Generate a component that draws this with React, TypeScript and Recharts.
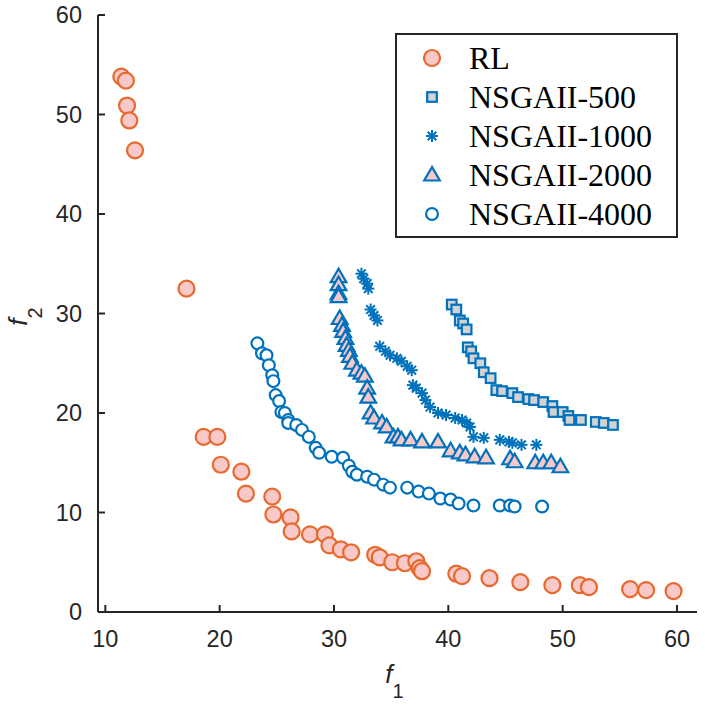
import { ScatterChart, Scatter, XAxis, YAxis, Legend } from "recharts";

// values
const rlPoints = [
  [11.4, 53.8], [11.8, 53.4], [11.9, 50.9], [12.1, 49.4], [12.6, 46.4],
  [17.1, 32.5], [18.6, 17.6], [19.8, 17.6], [20.1, 14.8], [21.9, 14.1],
  [22.3, 11.9], [24.6, 11.6], [24.7, 9.8], [26.2, 9.5], [26.3, 8.1],
  [27.9, 7.8], [29.2, 7.8], [29.6, 6.7], [30.6, 6.3], [31.5, 6.0],
  [33.6, 5.75], [34.0, 5.5], [35.1, 5.0], [36.2, 4.9], [37.2, 5.1],
  [37.5, 4.4], [37.7, 4.1], [40.7, 3.85], [41.2, 3.6], [43.6, 3.4],
  [46.3, 3.0], [49.1, 2.7], [51.5, 2.7], [52.3, 2.5], [55.9, 2.3],
  [57.3, 2.2], [59.7, 2.1],
];

const nsga500 = [
  [40.3, 30.9], [40.7, 30.4], [41.0, 29.3], [41.3, 29.0], [41.6, 28.4],
  [41.7, 26.6], [42.0, 26.2], [42.2, 25.5], [42.8, 25.0], [43.1, 24.1],
  [43.7, 23.5], [44.2, 22.3], [44.7, 22.2], [45.6, 22.0], [46.1, 21.6],
  [47.0, 21.4], [47.5, 21.3], [48.3, 21.1], [49.1, 20.7], [49.2, 20.1],
  [50.0, 20.1], [50.5, 19.7], [50.6, 19.3], [51.6, 19.3], [52.9, 19.1],
  [53.6, 19.0], [54.4, 18.8],
];

const nsga1000 = [
  [32.4, 34.0], [32.6, 33.5], [32.9, 33.0], [33.0, 32.5], [33.2, 30.4],
  [33.5, 29.8], [33.8, 29.3], [34.0, 26.7], [34.5, 26.2], [34.9, 25.8],
  [35.5, 25.5], [35.9, 25.2], [36.4, 24.7], [36.8, 24.3], [36.9, 22.8],
  [37.2, 22.5], [37.7, 22.0], [38.0, 21.3], [38.4, 20.6], [39.1, 20.0],
  [39.8, 19.8], [40.6, 19.5], [41.2, 19.3], [41.6, 19.0], [41.9, 18.6],
  [42.2, 17.6], [43.1, 17.5], [44.5, 17.3], [45.3, 17.1], [45.6, 17.0],
  [46.4, 16.8], [47.7, 16.8],
];

const nsga2000 = [
  [30.4, 33.7], [30.4, 32.9], [30.4, 32.0], [30.4, 31.7], [30.5, 29.5],
  [30.7, 28.8], [30.8, 28.2], [31.0, 27.5], [31.1, 26.8], [31.3, 26.3],
  [31.4, 25.7], [31.6, 25.0], [32.0, 24.3], [32.4, 24.0], [32.7, 23.7],
  [32.9, 22.5], [33.0, 21.6], [33.2, 20.0], [33.5, 19.5], [34.2, 19.0],
  [34.6, 18.6], [35.2, 17.6], [35.6, 17.6], [35.9, 17.3], [36.7, 17.3],
  [37.7, 17.1], [39.1, 17.1], [40.2, 16.2], [41.0, 16.0], [41.5, 15.8],
  [42.3, 15.6], [43.3, 15.5], [45.4, 15.4], [45.8, 15.1], [47.6, 15.0],
  [48.3, 15.0], [49.0, 15.0], [49.8, 14.6],
];

const nsga4000 = [
  [23.3, 27.0], [23.7, 26.0], [24.1, 25.8], [24.3, 24.8], [24.6, 23.8],
  [24.7, 23.2], [24.9, 21.8], [25.2, 21.2], [25.4, 20.1], [25.7, 20.0],
  [26.0, 19.3], [26.0, 19.0], [26.7, 18.8], [27.2, 18.3], [27.8, 17.6],
  [28.4, 16.5], [28.7, 16.0], [29.8, 15.6], [30.8, 15.5], [31.3, 14.7],
  [31.6, 14.1], [32.0, 13.8], [32.9, 13.6], [33.5, 13.3], [34.3, 12.8],
  [34.9, 12.5], [36.4, 12.5], [37.4, 12.1], [38.3, 11.9], [39.3, 11.4],
  [40.2, 11.3], [40.9, 10.9], [42.2, 10.7], [44.5, 10.7], [45.4, 10.7],
  [45.8, 10.6], [48.2, 10.6],
];

const seriesNames = ["RL", "NSGAII-500", "NSGAII-1000", "NSGAII-2000", "NSGAII-4000"];
const xTicks = [10, 20, 30, 40, 50, 60];
const yTicks = [0, 10, 20, 30, 40, 50, 60];

const toData = (pts: number[][]) => pts.map(([x, y]) => ({ x, y }));

const ORANGE = "#E8692D";
const BLUE = "#0072BD";
const PINK = "#F9C8C8";
const GRAY = "#D3D3D3";
const AXIS = "#262626";

const RlMark = ({ cx, cy }: any) => (
  <circle cx={cx} cy={cy} r={8} fill={PINK} stroke={ORANGE} strokeWidth={2.2} />
);
const SquareMark = ({ cx, cy }: any) => (
  <rect x={cx - 4.8} y={cy - 4.8} width={9.6} height={9.6} fill={GRAY} stroke={BLUE} strokeWidth={2.2} />
);
const StarMark = ({ cx, cy }: any) => {
  const r = 6;
  const d = r * 0.72;
  return (
    <g stroke={BLUE} strokeWidth={2}>
      <line x1={cx - r} y1={cy} x2={cx + r} y2={cy} />
      <line x1={cx} y1={cy - r} x2={cx} y2={cy + r} />
      <line x1={cx - d} y1={cy - d} x2={cx + d} y2={cy + d} />
      <line x1={cx - d} y1={cy + d} x2={cx + d} y2={cy - d} />
    </g>
  );
};
const TriMark = ({ cx, cy }: any) => (
  <polygon
    points={`${cx},${cy - 8} ${cx - 7.8},${cy + 5.5} ${cx + 7.8},${cy + 5.5}`}
    fill={PINK}
    stroke={BLUE}
    strokeWidth={2.2}
  />
);
const RingMark = ({ cx, cy }: any) => (
  <circle cx={cx} cy={cy} r={5.9} fill="#fff" stroke={BLUE} strokeWidth={2.2} />
);

const marks = [RlMark, SquareMark, StarMark, TriMark, RingMark];

const LegendBox = () => (
  <div
    style={{
      boxSizing: "border-box",
      width: 283,
      height: 205,
      border: `2px solid ${AXIS}`,
      background: "#fff",
      paddingTop: 4,
      fontFamily: "'Liberation Serif', 'Times New Roman', serif",
      fontSize: 32,
      color: "#000",
    }}
  >
    {seriesNames.map((name, i) => {
      const Mark = marks[i];
      return (
        <div key={name} style={{ height: 38.8, display: "flex", alignItems: "center" }}>
          <svg width={72} height={38} style={{ flex: "none" }}>
            <Mark cx={35} cy={19} />
          </svg>
          <span style={{ lineHeight: "38px" }}>{name}</span>
        </div>
      );
    })}
  </div>
);

const tickFont = { fill: AXIS, fontSize: 23.5, fontFamily: "'Liberation Sans', Arial, sans-serif" };
const axisLine = { stroke: AXIS, strokeWidth: 2 };
const XDOM: [number, number] = [9.36, 61.75];
const YDOM: [number, number] = [0, 60];

export default function App() {
  return (
    <div style={{ position: "absolute", left: 0, top: 0, background: "#fff" }}>
      <ScatterChart width={705} height={705} margin={{ top: 15, right: 8, bottom: 0, left: 0 }}>
        <XAxis
          dataKey="x"
          type="number"
          domain={XDOM}
          allowDataOverflow
          ticks={xTicks}
          interval={0}
          height={93}
          tickSize={-7}
          tickMargin={25}
          tick={tickFont}
          axisLine={axisLine}
          tickLine={axisLine}
          label={{
            content: (p: any) => {
              const cx = p.viewBox.x + p.viewBox.width / 2 - 3;
              return (
                <text x={cx} y={683} textAnchor="middle" fill={AXIS} fontFamily="'Liberation Sans', Arial, sans-serif">
                  <tspan fontStyle="italic" fontSize={26}>f</tspan>
                  <tspan fontSize={20} dy={15}>1</tspan>
                </text>
              );
            },
          }}
        />
        <XAxis
          xAxisId="top"
          orientation="top"
          type="number"
          domain={XDOM}
          allowDataOverflow
          ticks={xTicks}
          interval={0}
          height={0}
          tickSize={-7}
          tick={false}
          axisLine={axisLine}
          tickLine={axisLine}
        />
        <YAxis
          dataKey="y"
          type="number"
          domain={YDOM}
          allowDataOverflow
          ticks={yTicks}
          interval={0}
          width={98}
          tickSize={-7}
          tickMargin={23}
          tick={tickFont}
          axisLine={axisLine}
          tickLine={axisLine}
          label={{
            content: (p: any) => {
              const cy = p.viewBox.y + p.viewBox.height / 2 + 3;
              return (
                <text
                  transform={`translate(27, ${cy}) rotate(-90)`}
                  textAnchor="middle"
                  fill={AXIS}
                  fontFamily="'Liberation Sans', Arial, sans-serif"
                >
                  <tspan fontStyle="italic" fontSize={26}>f</tspan>
                  <tspan fontSize={20} dy={15}>2</tspan>
                </text>
              );
            },
          }}
        />
        <YAxis
          yAxisId="right"
          orientation="right"
          type="number"
          domain={YDOM}
          allowDataOverflow
          ticks={yTicks}
          interval={0}
          width={0}
          tickSize={-7}
          tick={false}
          axisLine={axisLine}
          tickLine={axisLine}
        />
        <Legend
          layout="vertical"
          align="center"
          verticalAlign="middle"
          content={() => <LegendBox />}
          wrapperStyle={{ left: 395, top: 33, width: 283, height: 205 }}
        />
        <Scatter name="RL" data={toData(rlPoints)} shape={RlMark} isAnimationActive={false} />
        <Scatter name="NSGAII-500" data={toData(nsga500)} shape={SquareMark} isAnimationActive={false} />
        <Scatter name="NSGAII-1000" data={toData(nsga1000)} shape={StarMark} isAnimationActive={false} />
        <Scatter name="NSGAII-2000" data={toData(nsga2000)} shape={TriMark} isAnimationActive={false} />
        <Scatter name="NSGAII-4000" data={toData(nsga4000)} shape={RingMark} isAnimationActive={false} />
      </ScatterChart>
    </div>
  );
}
